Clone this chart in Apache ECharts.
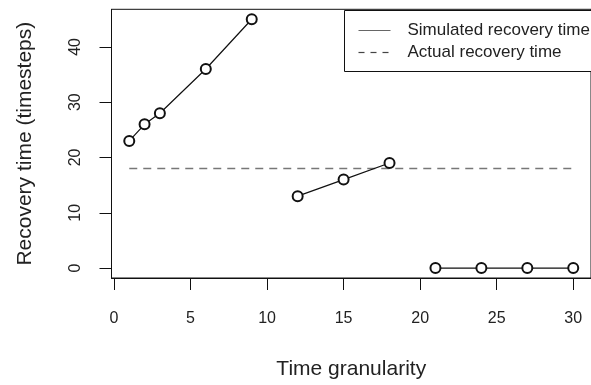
<!DOCTYPE html>
<html>
<head>
<meta charset="utf-8">
<script src="https://cdn.jsdelivr.net/npm/echarts@6/dist/echarts.min.js"></script>
<style>
  html, body { margin: 0; padding: 0; background: #fff; }
  #chart { width: 591px; height: 385px; }
</style>
</head>
<body>
<div id="chart"></div>
<script>
// Simulated recovery time, three separate runs
const runA_x = [1, 2, 3, 6, 9];
const runA_y = [23, 26, 28, 36, 45];
const runB_x = [12, 15, 18];
const runB_y = [13, 16, 19];
const runC_x = [21, 24, 27, 30];
const runC_y = [0, 0, 0, 0];

// Actual recovery time (horizontal reference)
const actualX = [1, 30];
const actualY = 18;

const xTicks = [0, 5, 10, 15, 20, 25, 30];
const yTicks = [0, 10, 20, 30, 40];
const legendLabels = ['Simulated recovery time', 'Actual recovery time'];

const FONT = '"Liberation Sans", Arial, Helvetica, sans-serif';
const INK = '#222';

const pairs = (xs, ys) => xs.map((x, i) => [x, ys[i]]);

const runSeries = (xs, ys) => ({
  type: 'line',
  data: pairs(xs, ys),
  symbol: 'emptyCircle',
  symbolSize: 10,
  lineStyle: { color: '#111', width: 1.2 },
  itemStyle: { color: '#111', borderColor: '#111', borderWidth: 1.2 },
  emphasis: { disabled: true },
  animation: false,
  z: 3
});

const chart = echarts.init(document.getElementById('chart'));

chart.setOption({
  backgroundColor: '#fff',
  textStyle: { fontFamily: FONT },
  grid: {
    left: 111.5,
    right: -5,
    top: 9.3,
    bottom: 106,
    show: true,
    borderColor: '#111',
    borderWidth: 1,
    backgroundColor: 'transparent'
  },
  xAxis: {
    type: 'value',
    min: -0.16,
    max: 31.16,
    name: 'Time granularity',
    nameLocation: 'middle',
    nameGap: 81,
    nameTextStyle: { fontSize: 21, color: INK, fontFamily: FONT },
    axisLine: { show: true, onZero: false, lineStyle: { color: '#111' } },
    axisTick: { show: true, inside: false, length: 12, customValues: xTicks, lineStyle: { color: '#111' } },
    axisLabel: { customValues: xTicks, margin: 33, fontSize: 16, color: INK, fontFamily: FONT },
    splitLine: { show: false }
  },
  yAxis: {
    type: 'value',
    min: -1.8,
    max: 46.8,
    name: 'Recovery time (timesteps)',
    nameLocation: 'middle',
    nameGap: 76,
    nameTextStyle: { fontSize: 21, color: INK, fontFamily: FONT },
    axisLine: { show: true, onZero: false, lineStyle: { color: '#111' } },
    axisTick: { show: true, inside: false, length: 12, customValues: yTicks, lineStyle: { color: '#111' } },
    axisLabel: { customValues: yTicks, rotate: 90, margin: 28, fontSize: 16, color: INK, fontFamily: FONT },
    splitLine: { show: false }
  },
  series: [
    {
      type: 'line',
      data: actualX.map(x => [x, actualY]),
      symbol: 'none',
      lineStyle: { color: '#777', width: 1.5, type: [8, 6] },
      emphasis: { disabled: true },
      animation: false,
      z: 2
    },
    runSeries(runA_x, runA_y),
    runSeries(runB_x, runB_y),
    runSeries(runC_x, runC_y)
  ],
  graphic: [
    {
      type: 'group',
      left: 344,
      top: 10,
      children: [
        { type: 'rect', shape: { x: 0, y: 0, width: 260, height: 61 },
          style: { fill: '#fff', stroke: '#111', lineWidth: 1 } },
        { type: 'line', shape: { x1: 14, y1: 20, x2: 46, y2: 20 },
          style: { stroke: '#666', lineWidth: 1.2 } },
        { type: 'line', shape: { x1: 14, y1: 42, x2: 46, y2: 42 },
          style: { stroke: '#444', lineWidth: 1.2, lineDash: [6, 6] } },
        { type: 'text', x: 63, y: 20,
          style: { text: legendLabels[0], font: '17px ' + FONT, fill: INK, verticalAlign: 'middle' } },
        { type: 'text', x: 63, y: 42,
          style: { text: legendLabels[1], font: '17px ' + FONT, fill: INK, verticalAlign: 'middle' } }
      ]
    }
  ]
});
</script>
</body>
</html>
